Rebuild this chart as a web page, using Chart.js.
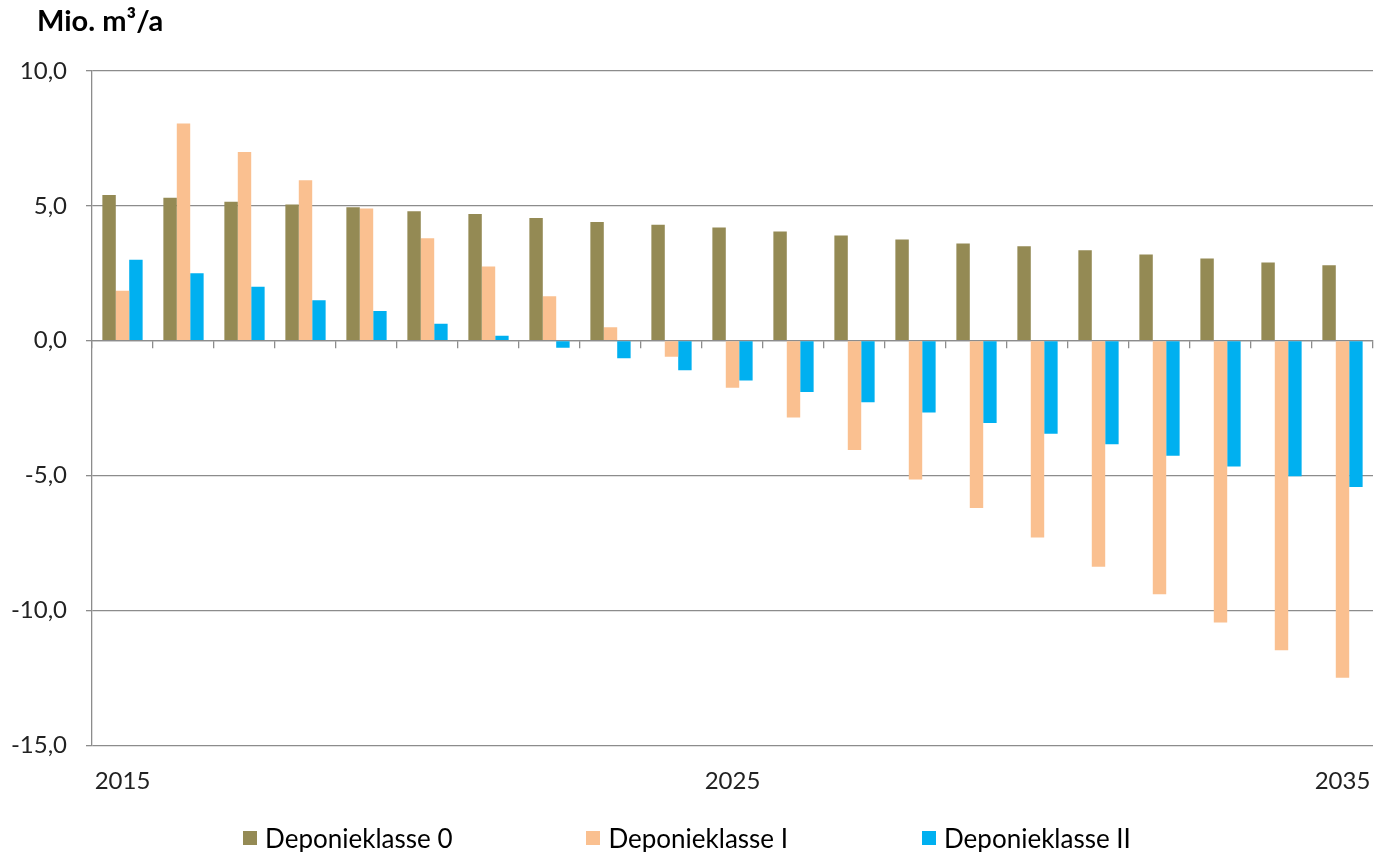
<!DOCTYPE html>
<html>
<head>
<meta charset="utf-8">
<script src="https://cdn.jsdelivr.net/npm/chart.js@4/dist/chart.umd.min.js"></script>
<style>
    html, body { margin: 0; padding: 0; background: #fff; }
    #wrap { position: relative; width: 1374px; height: 852px; }
    #unit {
        position: absolute; left: 37px; top: 2px;
        font: bold 29px Lato, sans-serif; color: #000;
    }
    #legend {
        position: absolute; left: 0; top: 822px; width: 1374px;
        display: flex; justify-content: center; gap: 134px;
        font: 26px Lato, sans-serif; color: #000;
    }
    #legend .item { display: flex; align-items: center; }
    #legend .box { width: 14px; height: 14px; margin-right: 8px; }
</style>
</head>
<body>
<div id="wrap">
    <canvas id="chart" width="1374" height="852"></canvas>
    <div id="unit">Mio. m³/a</div>
    <div id="legend"></div>
</div>
<script>
// Jahre und Volumen (Mio. m³/a) je Deponieklasse
const years = ['2015', '2016', '2017', '2018', '2019', '2020', '2021', '2022', '2023', '2024', '2025',
               '2026', '2027', '2028', '2029', '2030', '2031', '2032', '2033', '2034', '2035'];
const shownYears = ['2015', '2025', '2035'];

const klasse0 = [5.4, 5.3, 5.15, 5.05, 4.95, 4.8, 4.7, 4.55, 4.4, 4.3, 4.2,
                 4.05, 3.9, 3.75, 3.6, 3.5, 3.35, 3.2, 3.05, 2.9, 2.8];
const klasse1 = [1.85, 8.05, 7.0, 5.95, 4.9, 3.8, 2.75, 1.65, 0.5, -0.6, -1.75,
                 -2.85, -4.05, -5.15, -6.2, -7.3, -8.38, -9.4, -10.45, -11.48, -12.5];
const klasse2 = [3.0, 2.5, 2.0, 1.5, 1.1, 0.63, 0.18, -0.26, -0.65, -1.1, -1.48,
                 -1.9, -2.28, -2.66, -3.05, -3.45, -3.84, -4.27, -4.67, -5.03, -5.43];

const seriesNames = ['Deponieklasse 0', 'Deponieklasse I', 'Deponieklasse II'];
const seriesColors = ['#948A54', '#FAC090', '#00B0F0'];

const gridColor = '#8C8C8C';
const fontFamily = 'Lato, sans-serif';

const fmt = v => v.toFixed(1).replace('.', ',');

const chart = new Chart(document.getElementById('chart'), {
    type: 'bar',
    data: {
        labels: years,
        datasets: [klasse0, klasse1, klasse2].map((vals, i) => ({
            label: seriesNames[i],
            data: vals,
            backgroundColor: seriesColors[i],
            borderWidth: 0,
            categoryPercentage: 0.66,
            barPercentage: 1.0
        }))
    },
    options: {
        responsive: false,
        animation: false,
        layout: { padding: { left: 0, right: 1, top: 71, bottom: 34 } },
        plugins: {
            legend: { display: false },
            tooltip: { enabled: false }
        },
        scales: {
            y: {
                min: -15,
                max: 10,
                ticks: {
                    stepSize: 5,
                    padding: 19,
                    color: '#222',
                    font: { family: fontFamily, size: 24 },
                    callback: v => fmt(v)
                },
                grid: { color: gridColor, lineWidth: 1.3, tickLength: 6 },
                border: { color: gridColor, width: 1.3 },
                // feste Breite der Achse, Beschriftung endet bei x = 67
                afterFit: s => { s.width = 92; s.paddingTop = 0; s.paddingBottom = 0; }
            },
            x: {
                position: 'bottom',
                ticks: {
                    autoSkip: false,
                    maxRotation: 0,
                    padding: 22,
                    color: '#222',
                    font: { family: fontFamily, size: 24 },
                    callback: function (v) {
                        const lbl = this.getLabelForValue(v);
                        return shownYears.includes(lbl) ? lbl : '';
                    }
                },
                grid: { display: false, drawTicks: false },
                border: { display: false },
                afterFit: s => { s.paddingLeft = 0; s.paddingRight = 0; }
            },
            // Nulllinie mit Teilstrichen zwischen den Jahren
            x0: {
                type: 'category',
                labels: years,
                position: { y: 0 },
                offset: true,
                ticks: { display: false },
                grid: {
                    offset: true,
                    drawOnChartArea: false,
                    drawTicks: true,
                    tickLength: 7,
                    color: gridColor,
                    lineWidth: 1.3
                },
                border: { color: gridColor, width: 1.3 },
                afterFit: s => { s.paddingLeft = 0; s.paddingRight = 0; }
            }
        }
    }
});

// Legende unter dem Diagramm
const legend = document.getElementById('legend');
chart.data.datasets.forEach(ds => {
    const item = document.createElement('div');
    item.className = 'item';
    const box = document.createElement('span');
    box.className = 'box';
    box.style.background = ds.backgroundColor;
    const txt = document.createElement('span');
    txt.textContent = ds.label;
    item.appendChild(box);
    item.appendChild(txt);
    legend.appendChild(item);
});
</script>
</body>
</html>
